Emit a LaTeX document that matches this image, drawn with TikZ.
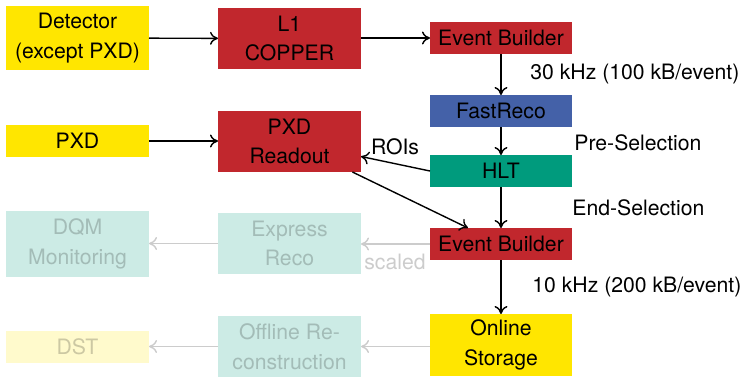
\documentclass[tikz,border=0pt]{standalone}
\usepackage{fontspec}
\setmainfont{TeX Gyre Heros}
\usetikzlibrary{arrows.meta}
\definecolor{byellow}{HTML}{FFE600}
\definecolor{bred}{HTML}{C1272D}
\definecolor{bblue}{HTML}{4461A8}
\definecolor{bteal}{HTML}{009B7D}
\definecolor{fteal}{HTML}{CCEBE5}
\definecolor{fyellow}{HTML}{FFFACC}
\definecolor{ftealtext}{HTML}{A3BCB7}
\definecolor{fyellowtext}{HTML}{CCC8A3}
\definecolor{fgray}{HTML}{CCCCCC}
\tikzset{
  box/.style={inner sep=0pt, outer sep=0pt, align=center, text=black,
    font=\fontsize{10.6}{14.8}\selectfont, minimum width=71.5pt},
  thin box/.style={box, minimum height=16pt},
  tall box/.style={box, minimum height=30.5pt},
  conn/.style={-{To[length=4pt,width=6.5pt]}, line width=0.7pt, black},
  faded/.style={-{To[length=4pt,width=6.5pt]}, line width=0.7pt, fgray},
  lbl/.style={inner sep=0pt, font=\fontsize{10.6}{14.8}\selectfont},
}
\begin{document}
\begin{tikzpicture}[x=0.5pt,y=-0.5pt]
\useasboundingbox (0,0) rectangle (746,377);
% boxes
\node[box, fill=byellow, minimum height=32pt] (det) at (77.5,38) {Detector\\(except PXD)};
\node[tall box, fill=bred] (l1) at (289.5,38.5) {L1\\COPPER};
\node[thin box, fill=bred, minimum width=71pt] (eb1) at (501,38) {Event Builder};
\node[thin box, fill=bblue, minimum width=71pt] (fr) at (501,111) {FastReco};
\node[thin box, fill=bteal, minimum width=71pt] (hlt) at (501,171) {HLT};
\node[thin box, fill=bred, minimum width=71pt] (eb2) at (501,244) {Event Builder};
\node[box, fill=byellow, minimum width=71pt, minimum height=31pt] (sto) at (501,345) {Online\\Storage};
\node[thin box, fill=byellow] (pxd) at (77.5,141) {PXD};
\node[tall box, fill=bred] (ro) at (289.5,141.5) {PXD\\Readout};
\node[box, fill=fteal, text=ftealtext, minimum height=33pt] (dqm) at (77.5,244) {DQM\\Monitoring};
\node[tall box, fill=fteal, text=ftealtext] (exp) at (289.5,243.5) {Express\\Reco};
\node[thin box, fill=fyellow, text=fyellowtext] (dst) at (77.5,347) {DST};
\node[tall box, fill=fteal, text=ftealtext] (off) at (289.5,346.5) {Offline Re-\\construction};
% labels
\node[lbl, anchor=west] (r1) at (530,74) {30 kHz (100 kB/event)};
\node[lbl, anchor=west] (pre) at (574,143) {Pre-Selection};
\node[lbl, anchor=west] (end) at (572,208) {End-Selection};
\node[lbl, anchor=west] (r2) at (532,287) {10 kHz (200 kB/event)};
\node[lbl] (rois) at (395,147) {ROIs};
\node[lbl, text=fgray] (scaled) at (395,262) {scaled};
% connectors
\draw[conn] (det) -- (l1);
\draw[conn] (l1.east |- eb1) -- (eb1);
\draw[conn] (pxd) -- (ro.west |- pxd);
\draw[conn] (eb1) -- (fr);
\draw[conn] (fr) -- (hlt);
\draw[conn] (hlt.west) -- (ro);
\draw[conn] (ro) -- (eb2);
\draw[conn] (hlt) -- (eb2);
\draw[conn] (eb2) -- (sto);
\draw[faded] (eb2.west) -- (exp.east |- eb2);
\draw[faded] (exp.west) -- (dqm.east |- exp);
\draw[faded] (sto.west |- off) -- (off.east);
\draw[faded] (off.west) -- (dst.east |- off);
\end{tikzpicture}
\end{document}
